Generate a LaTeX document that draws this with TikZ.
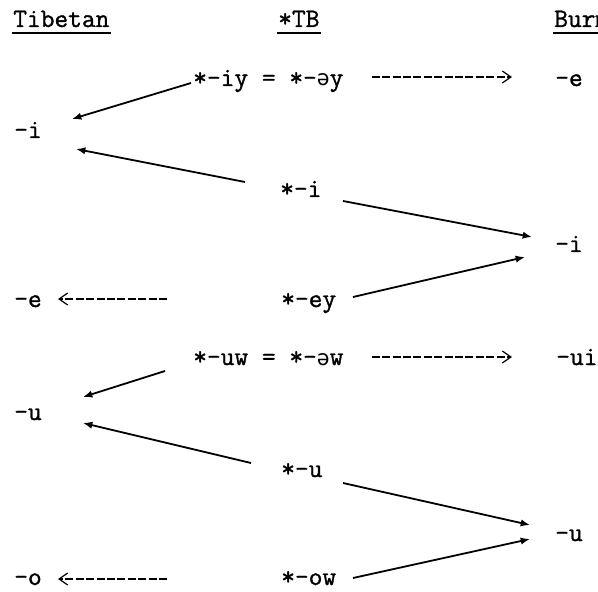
\documentclass[tikz,border=0pt]{standalone}
\usepackage{fontspec}
\newfontfamily\twfont{Latin Modern Mono}[FakeBold=1.2]
\newfontfamily\ipafont{DejaVu Sans Mono}[Scale=0.8]
\usetikzlibrary{arrows.meta,calc}
\newcommand{\schwa}{{\ipafont ə}}
\begin{document}
\begin{tikzpicture}[x=0.75pt,y=0.75pt,yscale=-1,xscale=1,
    lbl/.style={anchor=base west,inner sep=0.75pt,font=\fontsize{20}{24}\twfont},
    arr/.style={line width=1.35pt,-{Latex[length=7pt,width=5.5pt]}},
    dsh/.style={line width=1.3pt,dash pattern=on 6pt off 1.8pt,-{Straight Barb[length=6.5pt,width=9pt,line width=0.9pt]}}]
    \useasboundingbox (0,0) rectangle (598,591);
    \clip (0,0) rectangle (598,591);

    % Text Node
    \draw (12,27) node [lbl] (tib) {Tibetan};
    % Text Node
    \draw (277,27) node [lbl] (tbh) {*TB};
    % Text Node
    \draw (553,27) node [lbl] (bur) {Burmese};
    % Text Node
    \draw (192,86) node [lbl] (iy) {*-iy = *-\schwa y};
    % Text Node
    \draw (554,86) node [lbl] (be) {-e};
    % Text Node
    \draw (13,138) node [lbl] (ti) {-i};
    % Text Node
    \draw (279,197) node [lbl] (pi) {*-i};
    % Text Node
    \draw (554,252) node [lbl] (bi) {-i};
    % Text Node
    \draw (13,307) node [lbl] (te) {-e};
    % Text Node
    \draw (280,307) node [lbl] (ey) {*-ey};
    % Text Node
    \draw (192,365) node [lbl] (uw) {*-uw = *-\schwa w};
    % Text Node
    \draw (555,365) node [lbl] (bui) {-ui};
    % Text Node
    \draw (13,420) node [lbl] (tu) {-u};
    % Text Node
    \draw (280,477) node [lbl] (pu) {*-u};
    % Text Node
    \draw (554,541) node [lbl] (bu) {-u};
    % Text Node
    \draw (13,585) node [lbl] (to) {-o};
    % Text Node
    \draw (280,585) node [lbl] (ow) {*-ow};

    %Underlines
    \draw [line width=0.9pt] ($(tib.base west)+(0,6)$) -- ($(tib.base east)+(0,6)$) ;
    \draw [line width=0.9pt] ($(tbh.base west)+(0,6)$) -- ($(tbh.base east)+(0,6)$) ;
    \draw [line width=0.9pt] ($(bur.base west)+(0,6)$) -- ($(bur.base east)+(0,6)$) ;

    %Straight Lines
    \draw [arr] ($(iy.base west)+(-1,-3)$) -- ($(ti.base west)+(59,-19)$) ;
    \draw [arr] ($(pi.base west)+(-34,-15)$) -- ($(ti.base west)+(63,11)$) ;
    \draw [arr] ($(pi.base west)+(64,4)$) -- ($(bi.base west)+(-22,-15)$) ;
    \draw [arr] ($(ey.base west)+(73,-10)$) -- ($(bi.base west)+(-29,5)$) ;
    \draw [arr] ($(uw.base west)+(-27,6)$) -- ($(tu.base west)+(70,-23)$) ;
    \draw [arr] ($(pu.base west)+(-29,-14)$) -- ($(tu.base west)+(70,3)$) ;
    \draw [arr] ($(pu.base west)+(63,6)$) -- ($(bu.base west)+(-24,-16)$) ;
    \draw [arr] ($(ow.base west)+(73,-7)$) -- ($(bu.base west)+(-24,-2)$) ;

    %Dashed Lines
    \draw [dsh] ($(iy.base east)+(27,-9)$) -- ($(be.base west)+(-42,-9)$) ;
    \draw [dsh] ($(uw.base east)+(27,-8)$) -- ($(bui.base west)+(-43,-8)$) ;
    \draw [dsh] ($(ey.base west)+(-113,-8)$) -- ($(te.base west)+(45,-8)$) ;
    \draw [dsh] ($(ow.base west)+(-113,-6)$) -- ($(to.base west)+(45,-6)$) ;

\end{tikzpicture}
\end{document}
